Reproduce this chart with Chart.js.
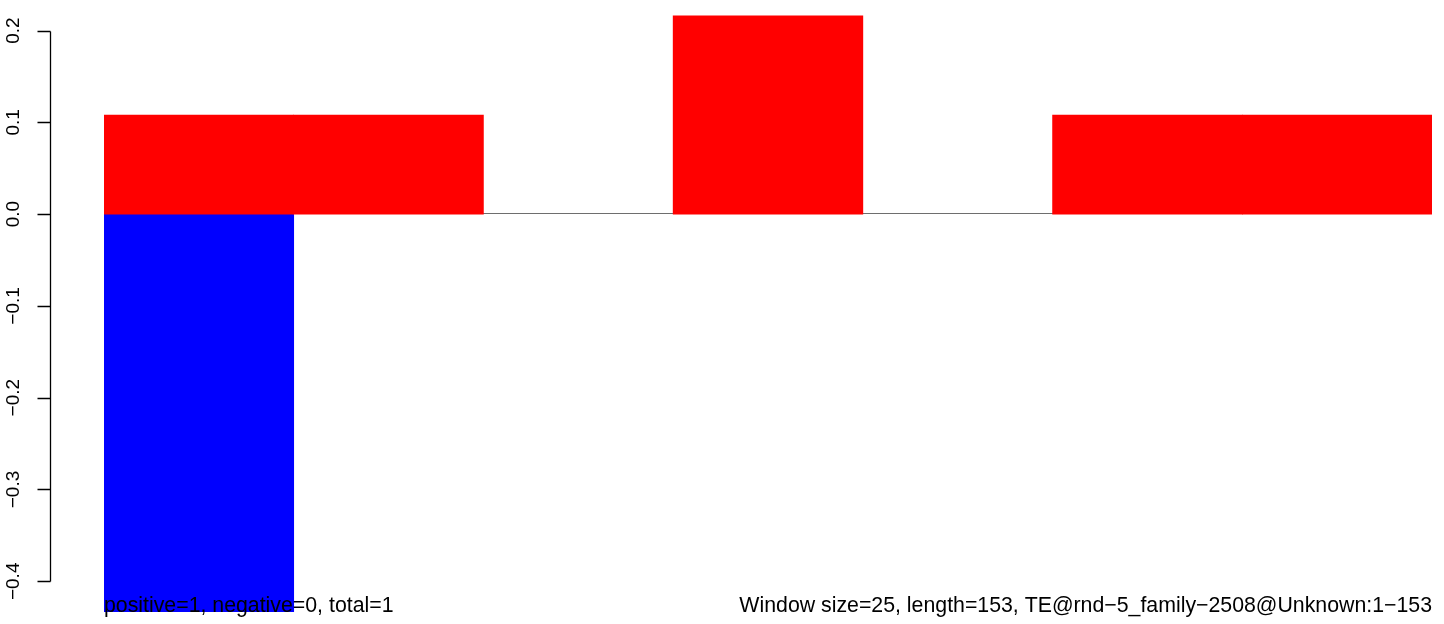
<!DOCTYPE html>
<html lang="en">
<head>
  <meta charset="UTF-8">
  <title>Window plot</title>
  <style>
    html, body { margin: 0; padding: 0; background: #fff; }
    #wrap { width: 1444px; height: 624px; }
  </style>
</head>
<body>
<div id="wrap">
  <canvas id="myChart" width="1444" height="624"></canvas>
</div>

<script src="https://cdn.jsdelivr.net/npm/chart.js@4/dist/chart.umd.min.js"></script>
<script>
  // windows of 25 along a 153 long sequence
  const windows = ['1', '26', '51', '76', '101', '126', '151']
  const positive = [0.108, 0.108, 0, 0.216, 0, 0.108, 0.108]
  const negative = [-0.433, 0, 0, 0, 0, 0, 0]
  const yTicks = [-0.4, -0.3, -0.2, -0.1, 0.0, 0.1, 0.2]

  const leftText = 'positive=1, negative=0, total=1'
  const rightText = 'Window size=25, length=153, TE@rnd\u22125_family\u22122508@Unknown:1\u2212153'

  const tickFont = '19px "Liberation Sans", Arial, sans-serif'
  const noteFont = '21.3px "Liberation Sans", Arial, sans-serif'

  const fmt = v => v.toFixed(1).replace('-', '\u2212')
  // empty windows get no bar at all
  const bars = arr => arr.map(v => (v === 0 ? null : v))

  // R style axis: line offset from the plot, rotated labels
  const rAxis = {
    id: 'rAxis',
    beforeDatasetsDraw(chart) {
      const { ctx, chartArea } = chart
      const y = chart.scales.y
      const y0 = Math.round(y.getPixelForValue(0)) - 0.5
      ctx.save()
      ctx.strokeStyle = '#6e6e6e'
      ctx.lineWidth = 1.2
      ctx.beginPath()
      ctx.moveTo(chartArea.left, y0)
      ctx.lineTo(chartArea.right, y0)
      ctx.stroke()
      ctx.restore()
    },
    afterDraw(chart) {
      const { ctx, chartArea } = chart
      const y = chart.scales.y
      const axisX = 50.5
      ctx.save()
      ctx.strokeStyle = '#000'
      ctx.lineWidth = 1.3
      ctx.beginPath()
      ctx.moveTo(axisX, Math.round(y.getPixelForValue(yTicks[0])) + 0.5)
      ctx.lineTo(axisX, Math.round(y.getPixelForValue(yTicks[yTicks.length - 1])) + 0.5)
      yTicks.forEach(t => {
        const py = Math.round(y.getPixelForValue(t)) + 0.5
        ctx.moveTo(axisX, py)
        ctx.lineTo(axisX - 13, py)
      })
      ctx.stroke()

      ctx.fillStyle = '#000'
      ctx.font = tickFont
      yTicks.forEach(t => {
        const py = y.getPixelForValue(t)
        ctx.save()
        ctx.translate(19, py)
        ctx.rotate(-Math.PI / 2)
        ctx.textAlign = 'center'
        ctx.textBaseline = 'alphabetic'
        ctx.fillText(fmt(t), 0, 0)
        ctx.restore()
      })

      ctx.font = noteFont
      ctx.textBaseline = 'alphabetic'
      ctx.textAlign = 'left'
      ctx.fillText(leftText, chartArea.left, 612)
      ctx.textAlign = 'right'
      ctx.fillText(rightText, chartArea.right, 612)
      ctx.restore()
    }
  }

  const ctx = document.getElementById('myChart')
  new Chart(ctx, {
    type: 'bar',
    data: {
      labels: windows,
      datasets: [
        { data: bars(positive), backgroundColor: '#ff0000', borderWidth: 0 },
        { data: bars(negative), backgroundColor: '#0000ff', borderWidth: 0 }
      ]
    },
    options: {
      responsive: false,
      animation: false,
      layout: { padding: { left: 104, right: 12, top: 3, bottom: 6 } },
      datasets: { bar: { barPercentage: 1, categoryPercentage: 1 } },
      plugins: { legend: { display: false }, tooltip: { enabled: false } },
      scales: {
        x: { display: false, stacked: true },
        y: { display: false, stacked: true, min: -0.44, max: 0.23 }
      }
    },
    plugins: [rAxis]
  })
</script>
</body>
</html>
